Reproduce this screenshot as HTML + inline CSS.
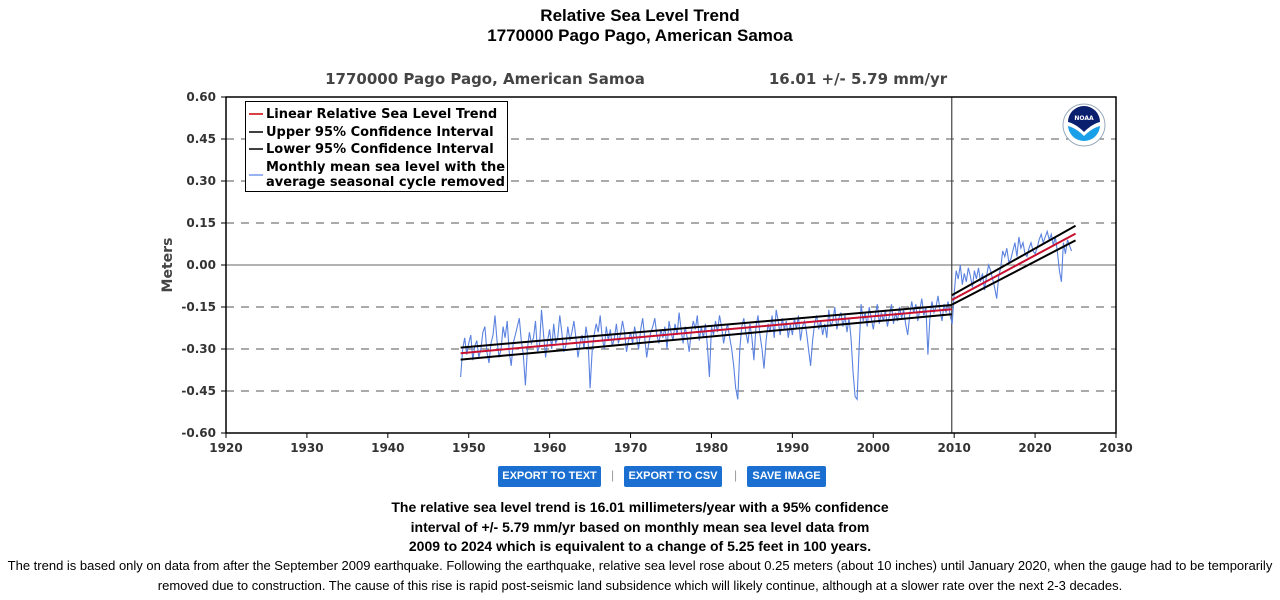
<!DOCTYPE html>
<html><head><meta charset="utf-8">
<style>
body{margin:0;width:1280px;height:600px;background:#fff;font-family:"Liberation Sans",sans-serif;position:relative;overflow:hidden}
.t{position:absolute;left:0;width:1280px;text-align:center;font-weight:bold;color:#000}
.btn{position:absolute;top:466px;height:21px;background:#1a6fd0;color:#fff;font-size:11px;font-weight:bold;line-height:21px;text-align:center;border-radius:2px}
.sep{position:absolute;top:468px;color:#999;font-size:12px}
.p{position:absolute;left:0;width:1280px;text-align:center;font-size:14px;font-weight:bold;line-height:19.5px}
.s{position:absolute;left:0;width:1280px;text-align:center;font-size:13px;line-height:20px}
</style></head><body>
<div class="t" style="top:6px;font-size:17px">Relative Sea Level Trend</div>
<div class="t" style="top:26px;font-size:17px">1770000 Pago Pago, American Samoa</div>
<svg id="chart" width="1280" height="460" style="position:absolute;left:0;top:0" font-family="DejaVu Sans, sans-serif">
<text x="485" y="84" font-size="15" font-weight="bold" fill="#444" text-anchor="middle">1770000 Pago Pago, American Samoa</text>
<text x="858" y="84" font-size="15" font-weight="bold" fill="#444" text-anchor="middle">16.01 +/-  5.79 mm/yr</text>
<text x="172" y="265" font-size="14" font-weight="bold" fill="#444" text-anchor="middle" transform="rotate(-90 172 265)">Meters</text>
<g id="grid"></g><g id="series"></g><g id="axes"></g>
<g>
<rect x="245.5" y="101.5" width="262" height="90" fill="#fff" stroke="#000"/>
<line x1="249" y1="114" x2="263" y2="114" stroke="#c00" stroke-width="1.5"/>
<text x="266" y="118" font-size="13" font-weight="bold">Linear Relative Sea Level Trend</text>
<line x1="249" y1="132" x2="263" y2="132" stroke="#000" stroke-width="1.5"/>
<text x="266" y="136" font-size="13" font-weight="bold">Upper 95% Confidence Interval</text>
<line x1="249" y1="149" x2="263" y2="149" stroke="#000" stroke-width="1.5"/>
<text x="266" y="153" font-size="13" font-weight="bold">Lower 95% Confidence Interval</text>
<line x1="249" y1="175" x2="263" y2="175" stroke="#7799ee" stroke-width="1.5"/>
<text x="266" y="171" font-size="13" font-weight="bold">Monthly mean sea level with the</text>
<text x="266" y="186" font-size="13" font-weight="bold">average seasonal cycle removed</text>
</g>
<g>
<circle cx="1084" cy="125" r="21" fill="#fff" stroke="#9ab" stroke-width="1"/>
<circle cx="1084" cy="125" r="16" fill="#1aa0e8"/>
<path d="M1068 122 A16 16 0 0 1 1100 122 Q1092 124 1084 132 Q1076 124 1068 122Z" fill="#0a1f6e"/>
<path d="M1068 122 Q1076 124 1084 132 Q1092 124 1100 122 L1100 126 Q1092 128 1084 136 Q1076 128 1068 126Z" fill="#fff"/>
<text x="1084" y="120" font-size="6" font-weight="bold" fill="#fff" text-anchor="middle">NOAA</text>
</g>
</svg>
<div class="btn" style="left:498px;width:103px">EXPORT TO TEXT</div>
<div class="sep" style="left:611px">|</div>
<div class="btn" style="left:624px;width:98px">EXPORT TO CSV</div>
<div class="sep" style="left:734px">|</div>
<div class="btn" style="left:747px;width:79px">SAVE IMAGE</div>
<div class="p" style="top:498px">The relative sea level trend is 16.01 millimeters/year with a 95% confidence<br>interval of +/- 5.79 mm/yr based on monthly mean sea level data from<br>2009 to 2024 which is equivalent to a change of 5.25 feet in 100 years.</div>
<div class="s" style="top:556px">The trend is based only on data from after the September 2009 earthquake. Following the earthquake, relative sea level rose about 0.25 meters (about 10 inches) until January 2020, when the gauge had to be temporarily<br>removed due to construction. The cause of this rise is rapid post-seismic land subsidence which will likely continue, although at a slower rate over the next 2-3 decades.</div>
<script>
const xTicks=[1920,1930,1940,1950,1960,1970,1980,1990,2000,2010,2020,2030];
const yTicks=[0.60,0.45,0.30,0.15,0.00,-0.15,-0.30,-0.45,-0.60];
const seriesStart=1949.0;
const seriesStep=0.25;
const msl=[
-0.40,-0.30,-0.26,-0.32,-0.28,-0.25,-0.34,-0.29,-0.27,-0.33,-0.30,-0.24,-0.22,-0.31,-0.35,-0.28,
-0.25,-0.18,-0.27,-0.33,-0.30,-0.22,-0.26,-0.20,-0.31,-0.36,-0.28,-0.25,-0.22,-0.19,-0.27,-0.32,
-0.43,-0.30,-0.24,-0.28,-0.26,-0.20,-0.31,-0.29,-0.16,-0.25,-0.33,-0.27,-0.23,-0.30,-0.21,-0.28,
-0.26,-0.18,-0.24,-0.31,-0.29,-0.22,-0.27,-0.24,-0.20,-0.26,-0.33,-0.28,-0.25,-0.30,-0.22,-0.27,
-0.44,-0.31,-0.25,-0.21,-0.24,-0.18,-0.26,-0.30,-0.22,-0.27,-0.23,-0.29,-0.26,-0.21,-0.28,-0.25,
-0.20,-0.24,-0.31,-0.27,-0.24,-0.28,-0.22,-0.26,-0.30,-0.23,-0.19,-0.26,-0.33,-0.28,-0.24,-0.22,
-0.19,-0.25,-0.28,-0.23,-0.26,-0.22,-0.30,-0.20,-0.24,-0.27,-0.21,-0.25,-0.17,-0.23,-0.28,-0.22,
-0.26,-0.31,-0.24,-0.20,-0.23,-0.18,-0.27,-0.22,-0.26,-0.21,-0.29,-0.40,-0.22,-0.25,-0.20,-0.24,
-0.18,-0.22,-0.28,-0.24,-0.21,-0.26,-0.30,-0.36,-0.44,-0.48,-0.30,-0.22,-0.19,-0.24,-0.28,-0.21,
-0.26,-0.34,-0.22,-0.18,-0.25,-0.30,-0.37,-0.27,-0.21,-0.24,-0.18,-0.26,-0.16,-0.20,-0.25,-0.19,
-0.23,-0.20,-0.26,-0.21,-0.25,-0.19,-0.23,-0.18,-0.27,-0.22,-0.20,-0.24,-0.30,-0.36,-0.27,-0.21,
-0.18,-0.23,-0.20,-0.25,-0.21,-0.26,-0.16,-0.22,-0.20,-0.15,-0.23,-0.19,-0.17,-0.22,-0.18,-0.24,
-0.19,-0.26,-0.38,-0.47,-0.48,-0.30,-0.14,-0.20,-0.17,-0.22,-0.15,-0.19,-0.23,-0.18,-0.14,-0.21,
-0.17,-0.20,-0.16,-0.22,-0.18,-0.14,-0.21,-0.17,-0.20,-0.15,-0.19,-0.16,-0.21,-0.25,-0.18,-0.13,
-0.17,-0.14,-0.20,-0.16,-0.12,-0.18,-0.15,-0.32,-0.19,-0.13,-0.17,-0.15,-0.11,-0.16,-0.20,-0.14,
-0.17,-0.13,-0.18,-0.21,-0.10,-0.02,-0.05,0.00,-0.07,-0.03,-0.06,-0.01,-0.04,-0.08,-0.02,-0.05,
-0.01,-0.06,-0.03,-0.09,-0.04,0.00,-0.02,-0.05,-0.08,-0.12,-0.04,-0.01,0.05,0.03,0.06,0.01,
0.02,0.05,0.08,0.03,0.10,0.06,0.08,0.04,0.03,0.06,0.08,0.05,0.04,0.06,0.09,0.11,
0.08,0.10,0.12,0.09,0.11,0.07,0.10,0.05,-0.02,-0.06,0.08,0.04,0.09,0.07,0.05];
const trendYears=[1949.0,2009.7,2009.7,2025.0];
const trendMid=[-0.315,-0.158,-0.125,0.112];
const trendUpper=[-0.295,-0.143,-0.108,0.140];
const trendLower=[-0.338,-0.176,-0.142,0.088];
const breakYear=2009.7;

const L=226,R=1116,T=97,B=433;
const xs=y=>L+(y-1920)*(R-L)/110;
const ys=v=>B-(v+0.6)*(B-T)/1.2;
const NS="http://www.w3.org/2000/svg";
function mk(p,tag,at){const e=document.createElementNS(NS,tag);for(const k in at)e.setAttribute(k,at[k]);p.appendChild(e);return e;}
const grid=document.getElementById('grid'),ser=document.getElementById('series'),ax=document.getElementById('axes');
yTicks.forEach(v=>{
 if(Math.abs(v)<0.6){
  const g=mk(grid,'line',{x1:L,x2:R,y1:ys(v),y2:ys(v),stroke:v===0?'#666':'#555','stroke-width':1,'stroke-dasharray':v===0?'':'8,7'});
  
  
 }
 const t=mk(ax,'text',{x:L-10,y:ys(v)+4,'font-size':12,'font-weight':'bold','text-anchor':'end',fill:'#333'});
 t.textContent=v.toFixed(2);
 
 
 mk(ax,'line',{x1:L-5,x2:L,y1:ys(v),y2:ys(v),stroke:'#000'});
});
xTicks.forEach(y=>{
 const t=mk(ax,'text',{x:xs(y),y:B+19,'font-size':12,'font-weight':'bold','text-anchor':'middle',fill:'#333'});
 t.textContent=y;
 
 
 mk(ax,'line',{x1:xs(y),x2:xs(y),y1:B,y2:B+5,stroke:'#000'});
});
const bl=mk(grid,'line',{x1:xs(breakYear),x2:xs(breakYear),y1:T,y2:B,stroke:'#444','stroke-width':1.2});


let d='';msl.forEach((v,i)=>{d+=(i?'L':'M')+xs(seriesStart+i*seriesStep).toFixed(1)+','+ys(v).toFixed(1);});
const ml=mk(ser,'path',{d:d,fill:'none',stroke:'#5b82e0','stroke-width':1.1});


function seg(arr,col,w,name){for(let s=0;s<arr.length;s+=2){const e=mk(ser,'line',{x1:xs(trendYears[s]),y1:ys(arr[s]),x2:xs(trendYears[s+1]),y2:ys(arr[s+1]),stroke:col,'stroke-width':w});
 
 }}
seg(trendUpper,'#000',2,'upper-confidence-line');
seg(trendLower,'#000',2,'lower-confidence-line');
seg(trendMid,'#c8102e',2,'linear-trend-line');
const fr=mk(ax,'rect',{x:L,y:T,width:R-L,height:B-T,fill:'none',stroke:'#000','stroke-width':1.5});


</script>
</body></html>
